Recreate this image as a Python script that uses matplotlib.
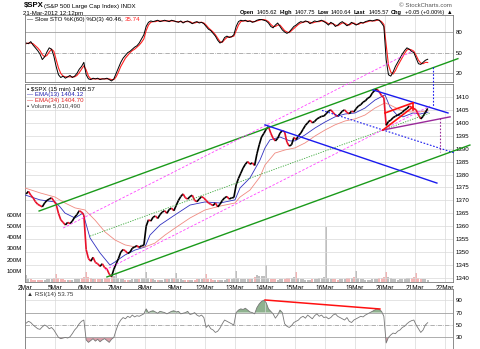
import numpy as np
import matplotlib
matplotlib.use('Agg')
from matplotlib import pyplot as plt
from matplotlib.collections import LineCollection

plt.rcParams['font.family'] = ['Liberation Sans', 'DejaVu Sans']

# ---- data (30-minute bars) ----
day_labels = ['2Mar', '5Mar', '6Mar', '7Mar', '8Mar', '9Mar', '12Mar', '13Mar',
              '14Mar', '15Mar', '16Mar', '19Mar', '20Mar', '21Mar', '22Mar']

close_by_day = [
    [1372.5, 1373.5, 1372.0, 1371.0, 1369.5, 1368.5, 1368.0, 1367.5, 1369.0, 1370.0, 1370.5, 1371.0, 1369.8],
    [1368.5, 1365.0, 1362.5, 1361.5, 1360.5, 1361.5, 1361.0, 1362.0, 1363.5, 1364.5, 1366.0, 1365.5, 1364.3],
    [1351.0, 1347.5, 1346.5, 1348.0, 1346.0, 1345.5, 1344.5, 1345.5, 1344.0, 1343.5, 1341.5, 1340.5, 1343.4],
    [1345.5, 1347.5, 1350.0, 1351.0, 1350.5, 1349.5, 1350.0, 1351.5, 1352.0, 1352.5, 1351.8, 1352.5, 1352.6],
    [1360.0, 1362.5, 1362.0, 1363.5, 1364.0, 1363.0, 1364.5, 1365.5, 1366.0, 1365.0, 1366.5, 1367.0, 1366.0],
    [1368.0, 1370.0, 1371.5, 1372.5, 1371.0, 1370.5, 1371.5, 1372.0, 1370.0, 1369.5, 1370.5, 1371.5, 1370.9],
    [1370.0, 1369.0, 1368.5, 1368.0, 1369.0, 1367.5, 1368.5, 1370.0, 1371.0, 1371.5, 1370.5, 1371.0, 1371.1],
    [1376.0, 1378.5, 1380.5, 1382.5, 1384.0, 1385.0, 1384.0, 1384.5, 1383.5, 1388.0, 1391.5, 1394.5, 1395.9],
    [1397.5, 1398.5, 1396.0, 1394.0, 1393.0, 1394.0, 1396.0, 1397.0, 1396.5, 1392.5, 1391.0, 1391.5, 1394.3],
    [1393.5, 1395.0, 1396.0, 1397.5, 1399.0, 1400.0, 1401.0, 1400.0, 1400.5, 1401.5, 1402.0, 1402.5, 1402.6],
    [1403.5, 1404.5, 1405.0, 1404.0, 1403.0, 1402.5, 1403.5, 1404.5, 1405.0, 1404.0, 1403.5, 1404.5, 1404.2],
    [1405.5, 1406.5, 1407.0, 1408.0, 1408.5, 1409.5, 1410.0, 1411.5, 1412.5, 1413.0, 1412.0, 1410.5, 1409.7],
    [1399.0, 1400.5, 1401.0, 1402.0, 1402.5, 1403.0, 1403.5, 1404.0, 1405.0, 1405.5, 1406.5, 1406.0, 1405.5],
    [1405.0, 1403.0, 1401.5, 1402.5, 1404.0, 1405.57],
]

# volume in millions; the opening bar of each day carries the spike
volume_by_day = [
    [60, 30, 25, 22, 20, 18, 20, 18, 22, 25, 28, 30, 40],
    [75, 35, 30, 25, 22, 20, 22, 20, 25, 28, 30, 32, 45],
    [90, 45, 35, 30, 28, 25, 28, 30, 32, 35, 40, 42, 50],
    [75, 40, 30, 25, 22, 20, 22, 25, 25, 28, 30, 32, 40],
    [85, 35, 28, 25, 22, 20, 20, 22, 25, 28, 30, 32, 40],
    [80, 30, 25, 22, 20, 18, 20, 22, 22, 25, 28, 30, 38],
    [70, 30, 25, 20, 18, 18, 20, 20, 22, 25, 28, 30, 38],
    [95, 40, 30, 28, 25, 25, 28, 30, 45, 60, 55, 50, 50],
    [150, 40, 30, 28, 25, 22, 25, 28, 30, 35, 40, 38, 45],
    [85, 35, 30, 25, 22, 20, 22, 25, 28, 30, 32, 35, 45],
    [490, 40, 30, 28, 25, 22, 25, 28, 30, 35, 40, 38, 45],
    [95, 35, 28, 25, 22, 20, 22, 25, 28, 30, 32, 35, 45],
    [90, 45, 35, 28, 25, 22, 25, 28, 30, 32, 35, 38, 45],
    [80, 35, 30, 28, 25, 22],
]

sto_k_by_day = [
    [64, 63, 66, 61, 57, 53, 48, 40, 44, 51, 57, 55, 45],
    [30, 18, 14, 16, 13, 15, 17, 14, 16, 20, 26, 30, 36],
    [18, 12, 11, 13, 12, 13, 11, 12, 12, 13, 11, 9, 12],
    [20, 28, 36, 42, 46, 50, 52, 55, 58, 60, 64, 70, 76],
    [88, 94, 96, 95, 96, 97, 95, 96, 97, 96, 95, 97, 96],
    [95, 94, 96, 93, 95, 96, 94, 92, 94, 95, 93, 94, 92],
    [88, 84, 82, 78, 74, 68, 64, 66, 72, 74, 72, 73, 76],
    [88, 95, 97, 96, 97, 95, 96, 94, 95, 97, 98, 98, 97],
    [96, 93, 88, 86, 90, 93, 88, 83, 80, 78, 80, 84, 88],
    [90, 93, 95, 94, 96, 95, 92, 94, 96, 95, 96, 97, 95],
    [93, 90, 94, 92, 88, 90, 93, 95, 92, 89, 91, 94, 92],
    [90, 92, 94, 93, 95, 96, 97, 96, 97, 98, 97, 93, 88],
    [40, 18, 16, 22, 30, 36, 42, 48, 53, 57, 55, 52, 50],
    [42, 34, 33, 36, 39, 40.46],
]

sto_d_by_day = [
    [63, 64, 64, 63, 60, 57, 53, 47, 44, 46, 51, 55, 52],
    [40, 28, 20, 16, 15, 15, 15, 15, 15, 17, 21, 26, 31],
    [25, 16, 12, 12, 12, 12, 12, 12, 12, 12, 12, 11, 11],
    [15, 22, 30, 36, 42, 46, 50, 53, 55, 58, 61, 65, 70],
    [82, 90, 94, 95, 95, 96, 96, 96, 96, 96, 96, 96, 96],
    [95, 95, 95, 94, 95, 95, 95, 93, 93, 94, 94, 94, 93],
    [90, 86, 83, 80, 76, 71, 66, 65, 69, 72, 73, 73, 74],
    [82, 90, 95, 96, 96, 96, 96, 95, 95, 96, 97, 98, 98],
    [97, 95, 91, 88, 88, 90, 90, 86, 82, 80, 79, 82, 85],
    [88, 91, 93, 94, 95, 95, 94, 93, 94, 95, 95, 96, 96],
    [94, 92, 92, 92, 90, 89, 91, 93, 93, 91, 90, 92, 93],
    [91, 91, 93, 93, 94, 95, 96, 96, 96, 97, 97, 95, 91],
    [62, 32, 22, 19, 24, 31, 37, 43, 49, 54, 55, 54, 52],
    [46, 39, 35, 34, 36, 35.74],
]

rsi_by_day = [
    [53, 56, 54, 50, 47, 44, 43, 47, 50, 48, 44, 46, 42],
    [36, 30, 28, 29, 30, 29, 31, 36, 42, 46, 52, 56, 58],
    [26, 22, 25, 28, 24, 27, 23, 26, 28, 25, 22, 27, 30],
    [42, 52, 58, 62, 60, 64, 62, 66, 63, 65, 64, 66, 68],
    [76, 70, 72, 73, 71, 69, 72, 71, 70, 68, 70, 72, 73],
    [71, 72, 68, 69, 70, 72, 67, 68, 70, 66, 64, 66, 62],
    [46, 50, 44, 42, 38, 40, 45, 52, 58, 56, 54, 52, 50],
    [70, 74, 76, 75, 77, 74, 71, 70, 68, 78, 84, 88, 90],
    [86, 76, 72, 68, 61, 66, 74, 70, 52, 48, 46, 49, 54],
    [56, 58, 62, 64, 61, 66, 63, 60, 65, 68, 64, 66, 62],
    [63, 60, 62, 66, 68, 64, 62, 60, 58, 62, 56, 54, 58],
    [60, 62, 64, 63, 66, 68, 70, 72, 74, 76, 75, 72, 64],
    [21, 30, 34, 37, 36, 40, 42, 46, 48, 52, 55, 57, 58],
    [50, 44, 38, 42, 50, 53.75],
]

# EMA lines (time in trading days from 2 Mar open)
ema13_t = [0, 0.5, 1.0, 1.167, 1.333, 1.667, 1.933, 2.167, 2.5, 2.833, 3.0, 3.333, 3.667,
           4.0, 4.167, 4.5, 5.0, 5.5, 6.0, 6.5, 7.0, 7.167, 7.5, 7.833, 8.0, 8.167, 8.5,
           8.833, 9.0, 9.333, 9.667, 10.0, 10.333, 10.667, 11.0, 11.333, 11.667, 12.0,
           12.167, 12.4, 12.6, 12.933, 13.167, 13.433]
ema13 = [1372.1, 1370.2, 1369.4, 1367.5, 1365.1, 1363.2, 1365.1, 1355.5, 1349.7, 1345.0,
         1346.2, 1348.9, 1350.8, 1352.0, 1356.6, 1360.5, 1364.4, 1368.2, 1369.4, 1369.0,
         1370.2, 1374.8, 1378.7, 1385.6, 1390.3, 1393.4, 1394.5, 1393.0, 1393.0, 1395.3,
         1398.0, 1400.3, 1402.3, 1403.4, 1403.8, 1405.7, 1408.8, 1410.8, 1406.1, 1403.0,
         1402.3, 1403.8, 1403.4, 1404.12]
ema34_t = [0, 0.5, 1.0, 1.333, 1.667, 2.0, 2.333, 2.667, 3.0, 3.333, 3.667, 4.0, 4.333,
           4.667, 5.0, 5.5, 6.0, 6.5, 7.0, 7.167, 7.5, 7.833, 8.0, 8.333, 8.667, 9.0, 9.333,
           9.667, 10.0, 10.333, 10.667, 11.0, 11.333, 11.667, 12.0, 12.167, 12.5, 12.833,
           13.167, 13.433]
ema34 = [1374.8, 1372.9, 1371.3, 1369.0, 1367.1, 1366.3, 1362.4, 1357.8, 1354.7, 1352.8,
         1352.0, 1352.0, 1353.5, 1356.6, 1359.3, 1363.2, 1366.3, 1367.8, 1369.0, 1371.3,
         1374.0, 1379.1, 1383.7, 1388.3, 1389.5, 1390.3, 1392.2, 1394.9, 1397.2, 1399.2,
         1400.7, 1401.5, 1403.0, 1405.7, 1407.7, 1406.9, 1405.0, 1404.2, 1404.2, 1404.7]

# hand-drawn trend lines: (start time, end time), (start price, end price)
green_upper = ([0.47, 14.43], [1365.9, 1424.8])
green_lower = ([2.73, 14.83], [1340.4, 1391.4])
green_mid = ([2.17, 13.5], [1356.2, 1403.8])
magenta_upper = ([1.27, 12.93], [1359.3, 1427.8])
magenta_lower = ([2.67, 13.5], [1343.1, 1406.5])
blue_upper = ([11.6, 14.1], [1412.7, 1403.8])
blue_lower = ([8.0, 13.73], [1399.2, 1376.7])
blue_dotted = ([9.9, 14.33], [1404.8, 1388.3])
blue_drop = ([13.6, 13.6], [1421.6, 1406.1])
purple_line = ([11.93, 14.17], [1397.2, 1402.3])
purple_drop = ([13.83, 13.83], [1401.9, 1388.7])
red_flag_top = ([12.0, 12.93], [1403.8, 1407.7])
red_flag_bottom = ([11.93, 12.93], [1397.2, 1406.1])
red_flag_side = ([12.93, 12.93], [1407.7, 1405.0])
rsi_trend = ([8.0, 11.83], [90.3, 75.8])


def bar_times(days):
    return np.concatenate([d + (np.arange(len(v)) + 0.5) / 13 for d, v in enumerate(days)])


t = bar_times(close_by_day)
close = np.concatenate(close_by_day)
volume = np.concatenate(volume_by_day)
sto_k = np.concatenate(sto_k_by_day)
sto_d = np.concatenate(sto_d_by_day)
rsi = np.concatenate(rsi_by_day)

W, H = 480, 349
fig = plt.figure(figsize=(W / 100, H / 100), dpi=100)


def px_axes(x0, y0, x1, y1, **kw):
    return fig.add_axes([x0 / W, 1 - y1 / H, (x1 - x0) / W, (y1 - y0) / H], **kw)


fs = 4.4
xmax = 428 / 30.0
grid_c = '#d9d9d9'
frame_c = '#7a7a7a'


def style(ax):
    ax.set_xlim(0, xmax)
    ax.set_xticks(range(15))
    ax.grid(True, axis='x', color=grid_c, lw=0.5)
    ax.yaxis.tick_right()
    ax.tick_params(axis='both', length=0, labelsize=fs, pad=2)
    for s in ax.spines.values():
        s.set_color(frame_c)
        s.set_linewidth(0.6)


# ---- slow stochastic panel ----
ax_s = px_axes(25, 15, 453, 82)
style(ax_s)
ax_s.set_ylim(7.5, 104.6)
ax_s.set_yticks([20, 50, 80])
ax_s.set_xticklabels([])
for lvl in (20, 80):
    ax_s.axhline(lvl, color='#a0a0a0', lw=0.6)
ax_s.axhline(50, color='#909090', lw=0.5, ls='-.')
ax_s.plot(t, sto_d, color='#ff2020', lw=0.8)
ax_s.plot(t, sto_k, color='black', lw=0.7)
sto_leg = ax_s.text(0.005, 0.935, '\u2014 Slow STO %K(60) %D(3) 40.46,', transform=ax_s.transAxes,
                    fontsize=fs, va='center', ha='left')

# ---- price panel with volume underneath ----
ax_v = px_axes(25, 84, 453, 282)
ax_p = px_axes(25, 84, 453, 282, facecolor='none')
style(ax_p)
ax_v.set_xlim(0, xmax)
ax_v.set_ylim(0, 1768)
ax_v.set_xticks([])
ax_v.set_yticks([100, 200, 300, 400, 500, 600])
ax_v.set_yticklabels(['%dM' % v for v in [100, 200, 300, 400, 500, 600]])
ax_v.tick_params(length=0, labelsize=fs, pad=2)
for s in ax_v.spines.values():
    s.set_visible(False)
down = np.r_[False, np.diff(close) < 0]
vcol = np.where(down, '#f0a8a8', '#b4b4b4')
ax_v.bar(t, volume, width=1 / 13 * 0.85, color=vcol, alpha=0.85, lw=0)

ax_p.set_ylim(1338.45, 1415.0)
ax_p.set_yticks(range(1340, 1411, 5))
ax_p.grid(True, axis='y', color=grid_c, lw=0.5)
ax_p.set_xticklabels(day_labels)
ax_p.tick_params(axis='x', pad=2, labelsize=4.7)

seg = np.stack([np.column_stack([t[:-1], close[:-1]]), np.column_stack([t[1:], close[1:]])], axis=1)
seg_col = np.where(np.diff(close) < 0, '#e8102a', 'black')
ax_p.add_collection(LineCollection(seg, colors=seg_col, linewidths=1.2, zorder=4))
ax_p.plot(ema13_t, ema13, color='#3030c0', lw=0.6, zorder=3)
ax_p.plot(ema34_t, ema34, color='#f08a80', lw=0.6, zorder=3)

trend = dict(clip_on=False, zorder=5)
dots = (0, (1.5, 1.5))
ax_p.plot(*green_upper, color='#1a9a1a', lw=1.0, **trend)
ax_p.plot(*green_lower, color='#1a9a1a', lw=1.0, **trend)
ax_p.plot(*green_mid, color='#3aa83a', lw=0.6, ls=dots, **trend)
ax_p.plot(*magenta_upper, color='#ff44ff', lw=0.6, ls=(0, (3, 2)), **trend)
ax_p.plot(*magenta_lower, color='#ff44ff', lw=0.6, ls=(0, (3, 2)), **trend)
ax_p.plot(*blue_upper, color='#1a1aee', lw=1.0, **trend)
ax_p.plot(*blue_lower, color='#1a1aee', lw=1.0, **trend)
ax_p.plot(*blue_dotted, color='#1a1aee', lw=0.8, ls=dots, **trend)
ax_p.plot(*blue_drop, color='#1a1aee', lw=0.8, ls=dots, **trend)
ax_p.plot(*purple_line, color='#9a2a9a', lw=1.0, **trend)
ax_p.plot(*purple_drop, color='#9a2a9a', lw=0.8, ls=dots, **trend)
ax_p.plot(*red_flag_top, color='#ff1010', lw=1.2, **trend)
ax_p.plot(*red_flag_bottom, color='#ff1010', lw=1.2, **trend)
ax_p.plot(*red_flag_side, color='#ff1010', lw=1.2, **trend)

leg_y = [0.973, 0.945, 0.917, 0.889]
ax_p.text(0.004, leg_y[0], '\u25aa $SPX (15 min) 1405.57', transform=ax_p.transAxes,
          fontsize=fs, va='center')
ax_p.text(0.004, leg_y[1], '\u2014 EMA(13) 1404.12', transform=ax_p.transAxes,
          fontsize=fs, va='center', color='#2020b0')
ax_p.text(0.004, leg_y[2], '\u2014 EMA(34) 1404.70', transform=ax_p.transAxes,
          fontsize=fs, va='center', color='#e02020')
ax_p.text(0.004, leg_y[3], '\u25aa Volume 5,010,490', transform=ax_p.transAxes,
          fontsize=fs, va='center', color='#404040')

# ---- RSI panel (runs past the bottom edge) ----
ax_r = px_axes(25, 289, 453, 361)
style(ax_r)
ax_r.set_ylim(-8, 108)
ax_r.set_yticks([30, 50, 70, 90])
ax_r.set_xticklabels([])
for lvl in (10, 90):
    ax_r.axhline(lvl, color=grid_c, lw=0.5)
for lvl in (30, 70):
    ax_r.axhline(lvl, color='#a0a0a0', lw=0.6)
ax_r.axhline(50, color='#909090', lw=0.5, ls='-.')
ax_r.fill_between(t, rsi, 70, where=rsi >= 70, interpolate=True, color='#8fb28f', lw=0)
ax_r.fill_between(t, rsi, 30, where=rsi <= 30, interpolate=True, color='#d8a0aa', lw=0)
ax_r.plot(t, rsi, color='#777777', lw=0.6)
ax_r.plot(*rsi_trend, color='#ff1010', lw=1.1)
ax_r.text(0.004, 0.925, '\u25b2 RSI(14) 53.75', transform=ax_r.transAxes, fontsize=fs,
          va='center', color='#333333')


# ---- header ----
def ftext(x, y, s, **kw):
    kw.setdefault('fontsize', fs)
    return fig.text(x / W, 1 - y / H, s, va='center', **kw)


ftext(24, 6, '$SPX', fontsize=5.6, fontweight='bold')
ftext(44, 6.5, '(S&P 500 Large Cap Index) INDX')
ftext(23, 13.5, '21-Mar-2012 12:12pm')
ftext(452, 5.5, '\u00a9 StockCharts.com', ha='right', color='#555555')

head = [('Open', True), ('1405.62', False), ('High', True), ('1407.75', False),
        ('Low', True), ('1400.64', False), ('Last', True), ('1405.57', False),
        ('Chg', True), ('+0.05 (+0.00%)', False), ('\u25b2', False)]
head_txt = [ftext(0, 12.5, s, fontweight='bold' if b else 'normal', fontsize=4.1)
            for s, b in head]

# lay out the header and the red %D value after measuring the text
fig.canvas.draw()
rend = fig.canvas.get_renderer()
gap = 2.5
widths = [tx.get_window_extent(rend).width for tx in head_txt]
x = 452 - (sum(widths) + gap * (len(widths) - 1))
for tx, w in zip(head_txt, widths):
    tx.set_x(x / W)
    x += w + gap
x1 = sto_leg.get_window_extent(rend).x1
ftext(x1 + 1.5, 19.3, '35.74', color='#ff2020')

fig.savefig('out.png', dpi=100)
